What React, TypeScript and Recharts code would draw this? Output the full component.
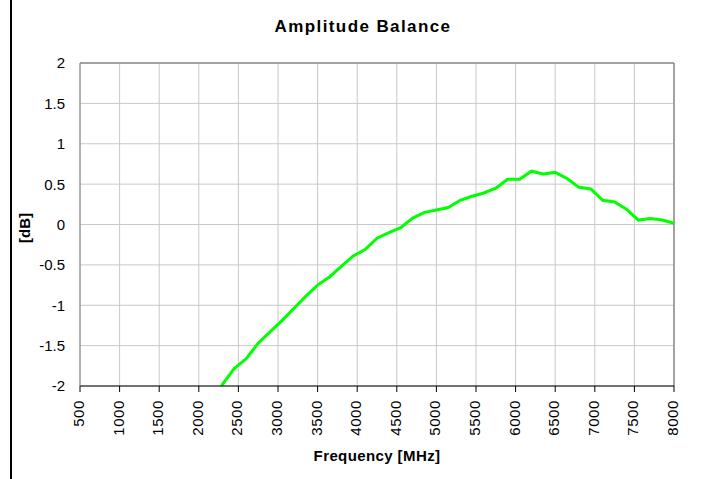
import React from 'react';
import { LineChart, Line, XAxis, YAxis, CartesianGrid, ReferenceLine } from 'recharts';

// frequency points in MHz, one every 150 MHz (first one sits below the axis and gets clipped)
const freqs = [
  2150, 2300, 2450, 2600, 2750, 2900, 3050, 3200, 3350, 3500,
  3650, 3800, 3950, 4100, 4250, 4400, 4550, 4700, 4850, 5000,
  5150, 5300, 5450, 5600, 5750, 5900, 6050, 6200, 6350, 6500,
  6650, 6800, 6950, 7100, 7250, 7400, 7550, 7700, 7850, 8000,
];

// amplitude balance in dB
const balance = [
  -2.3, -1.98, -1.78, -1.66, -1.47, -1.33, -1.19, -1.04, -0.89, -0.75,
  -0.65, -0.52, -0.39, -0.31, -0.17, -0.1, -0.04, 0.08, 0.15, 0.18,
  0.21, 0.3, 0.35, 0.39, 0.45, 0.56, 0.56, 0.66, 0.625, 0.645,
  0.57, 0.46, 0.44, 0.3, 0.28, 0.19, 0.055, 0.075, 0.055, 0.015,
];

const xTicks = [500, 1000, 1500, 2000, 2500, 3000, 3500, 4000, 4500, 5000, 5500, 6000, 6500, 7000, 7500, 8000];
const yTicks = [-2, -1.5, -1, -0.5, 0, 0.5, 1, 1.5, 2];

const data = freqs.map((f, i) => ({ freq: f, db: balance[i] }));

const FONT = '"Liberation Sans", Arial, sans-serif';

const XTick = ({ x, y, payload }: any) => (
  <text
    x={x}
    y={y}
    dy={4}
    transform={`rotate(-90, ${x}, ${y})`}
    textAnchor="end"
    fontFamily={FONT}
    fontSize={15}
    letterSpacing={0.6}
    fill="#000"
  >
    {payload.value}
  </text>
);

const YTick = ({ x, y, payload }: any) => (
  <text x={x} y={y} dy="0.36em" textAnchor="end" fontFamily={FONT} fontSize={15} fill="#000">
    {String(payload.value)}
  </text>
);

export default function App() {
  return (
    <div style={{ position: 'absolute', left: 0, top: 0, width: 712, height: 479, background: '#fff' }}>
      <LineChart width={712} height={479} data={data} margin={{ top: 63, right: 38, bottom: 0, left: 0 }}>
        <CartesianGrid stroke="#c8c8c8" strokeWidth={1} />
        <XAxis
          dataKey="freq"
          type="number"
          domain={[500, 8000]}
          ticks={xTicks}
          interval={0}
          height={93}
          stroke="#000"
          tickSize={6}
          tickMargin={8}
          tick={<XTick />}
        />
        <YAxis
          type="number"
          domain={[-2, 2]}
          ticks={yTicks}
          interval={0}
          allowDataOverflow
          width={80}
          stroke="#808080"
          tickLine={false}
          tickSize={0}
          tickMargin={15}
          tick={<YTick />}
        />
        <ReferenceLine y={2} stroke="#8c8c8c" strokeWidth={1.5} />
        <ReferenceLine x={8000} stroke="#8c8c8c" strokeWidth={1.5} />
        <Line
          type="linear"
          dataKey="db"
          stroke="#00ff00"
          strokeWidth={3}
          dot={false}
          isAnimationActive={false}
        />
      </LineChart>

      {/* title and axis names on top of the chart */}
      <svg width={712} height={479} style={{ position: 'absolute', left: 0, top: 0, pointerEvents: 'none' }}>
        <text x={363} y={32} textAnchor="middle" fontFamily={FONT} fontWeight="bold" fontSize={17} letterSpacing={1.4} fill="#000">
          Amplitude Balance
        </text>
        <text x={377} y={461} textAnchor="middle" fontFamily={FONT} fontWeight="bold" fontSize={15} letterSpacing={0.4} fill="#000">
          Frequency [MHz]
        </text>
        <text x={30} y={228} transform="rotate(-90, 30, 228)" textAnchor="middle" fontFamily={FONT} fontWeight="bold" fontSize={15} fill="#000">
          [dB]
        </text>
        <line x1={11} y1={0} x2={11} y2={479} stroke="#000" strokeWidth={2} />
      </svg>
    </div>
  );
}
